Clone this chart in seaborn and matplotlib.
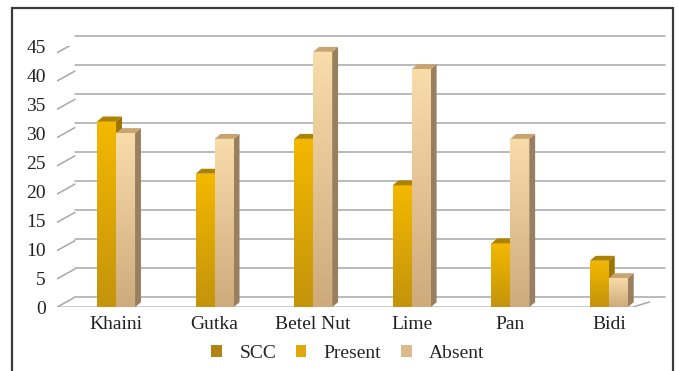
import matplotlib.pyplot as plt
import matplotlib
import matplotlib.transforms as mtransforms
from matplotlib.patches import Polygon, Patch, Rectangle
import numpy as np
import pandas as pd
import seaborn as sns

sns.set_style("white")
matplotlib.rc('font', family=['Liberation Serif', 'DejaVu Serif'], size=14)

habits = ['Khaini', 'Gutka', 'Betel Nut', 'Lime', 'Pan', 'Bidi']
present = [32, 23, 29, 21, 11, 8]
absent = [30, 29, 44, 41, 29, 5]
status = ['Present', 'Absent']

df = pd.DataFrame({
    'Habit': habits * 2,
    'Count': present + absent,
    'Status': ['Present'] * len(habits) + ['Absent'] * len(habits),
})

# front colour (top, bottom), side colour, top-face colour
face = {
    'Present': ('#f4b800', '#c4940c', '#9c7400', '#ad8200'),
    'Absent': ('#f8dcaa', '#cfab7c', '#9a7f5e', '#c8a46e'),
}

fig = plt.figure(figsize=(6.78, 3.71), dpi=100)
ax = fig.add_axes([0.084, 0.172, 0.875, 0.704])

sns.barplot(data=df, x='Habit', y='Count', hue='Status', hue_order=status,
            palette=[face[s][0] for s in status], width=0.385, gap=0,
            saturation=1, legend=False, ax=ax, zorder=3)

ax.set(xlabel=None, ylabel=None)
ax.set_yticks(range(0, 46, 5))
for s in ax.spines.values():
    s.set_visible(False)
ax.tick_params(axis='both', length=0, labelsize=14, colors='#222222')
ax.tick_params(axis='y', pad=8)
ax.tick_params(axis='x', pad=6)

# back wall offset for the 3D look
off_x, off_y = 18 / 100, 10 / 100
back = ax.get_yaxis_transform() + mtransforms.ScaledTranslation(off_x, off_y, fig.dpi_scale_trans)
front = ax.get_yaxis_transform()
grid_c = '#a8a8a8'
for t in ax.get_yticks():
    ax.plot([0, 0.995], [t, t], transform=back, color=grid_c, lw=1.1, zorder=1, clip_on=False)
    p0 = front.transform((0, t))
    p1 = back.transform((0, t))
    ax.plot([p0[0], p1[0]], [p0[1], p1[1]], transform=None, color=grid_c, lw=1.1, zorder=1)
# floor
p0 = front.transform((0, 0))
p1 = front.transform((0.97, 0))
p2 = back.transform((0.995, 0))
ax.plot([p0[0], p1[0], p2[0]], [p0[1], p1[1], p2[1]], transform=None, color=grid_c, lw=1.1, zorder=1)

# depth of the bar faces in data units
dx = 0.06
dy = 0.85
grad = np.linspace(0, 1, 64).reshape(-1, 1)
for container, s in zip(ax.containers, status):
    top_c, bot_c, side_c, cap_c = face[s]
    cmap = matplotlib.colors.LinearSegmentedColormap.from_list(s, [bot_c, top_c])
    for bar in container:
        x0, w, h = bar.get_x(), bar.get_width(), bar.get_height()
        x1 = x0 + w
        bar.set_edgecolor('none')
        ax.add_patch(Polygon([(x1, 0), (x1 + dx, dy), (x1 + dx, h + dy), (x1, h)],
                             closed=True, fc=side_c, ec='none', zorder=2.5 if s == 'Present' else 3.5))
        ax.add_patch(Polygon([(x0, h), (x0 + dx, h + dy), (x1 + dx, h + dy), (x1, h)],
                             closed=True, fc=cap_c, ec='none', zorder=3.5))
        im = ax.imshow(grad, cmap=cmap, extent=(x0, x1, 0, h), origin='lower',
                       aspect='auto', zorder=3.2 if s == 'Present' else 3.6)
        im.set_clip_path(bar)
ax.set_aspect('auto')
ax.set_xlim(-0.6, 5.42)
ax.set_ylim(0, 45)

handles = [Patch(fc='#b08410', ec='none'), Patch(fc='#e0a808', ec='none'),
           Patch(fc='#dcbb8a', ec='none')]
fig.legend(handles, ['SCC', 'Present', 'Absent'], loc='center', bbox_to_anchor=(0.513, 0.048),
           ncol=3, frameon=False, fontsize=14, handlelength=0.55, handleheight=0.55,
           handletextpad=0.9, columnspacing=1.0)

fig.patches.append(Rectangle((12 / 678, -0.02), 661 / 678, 1.0 - 8 / 371 + 0.02,
                             transform=fig.transFigure, fill=False, ec='#3a3a3a', lw=1.6))

fig.savefig('out.png', dpi=100)
plt.close(fig)
